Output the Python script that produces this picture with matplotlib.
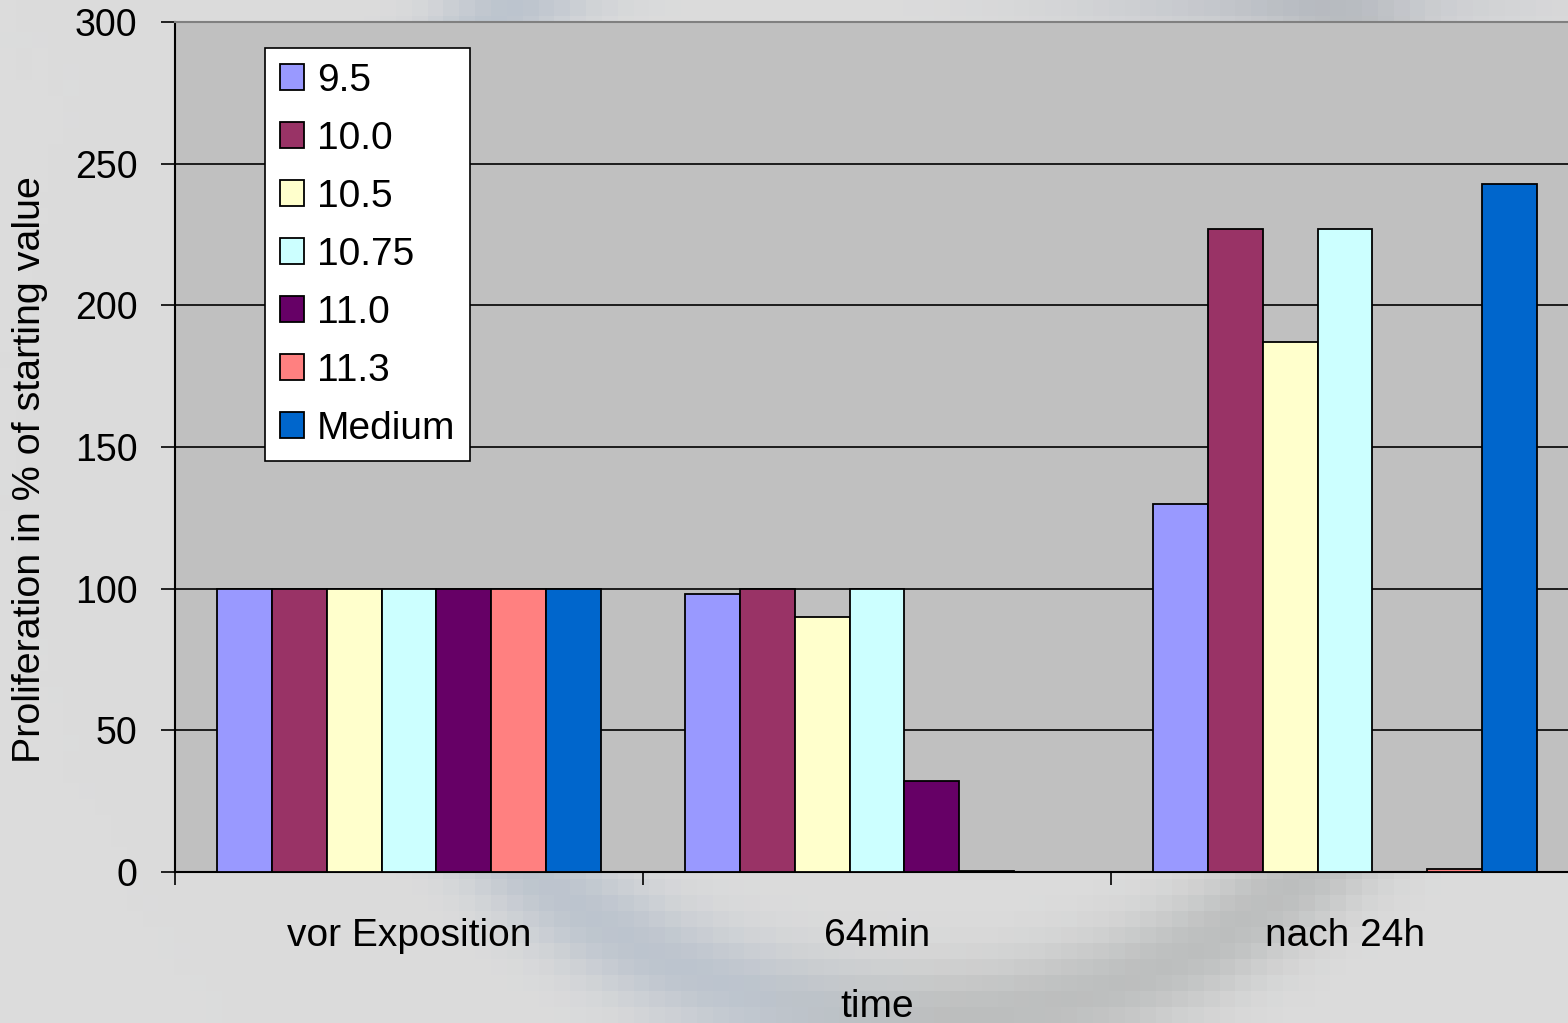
import numpy as np
import matplotlib
matplotlib.use("Agg")
import matplotlib.pyplot as plt
from matplotlib.ticker import FixedLocator

plt.rcParams['font.family'] = ['Liberation Sans', 'DejaVu Sans']

# ---------------------------------------------------------------------------
# data
# ---------------------------------------------------------------------------
categories = ['vor Exposition', '64min', 'nach 24h']
series_names = ['9.5', '10.0', '10.5', '10.75', '11.0', '11.3', 'Medium']
series_colors = ['#9999FF', '#993366', '#FFFFCC', '#CCFFFF', '#660066', '#FF8080', '#0066CC']

vals_95 = [100, 98, 130]
vals_100 = [100, 100, 227]
vals_105 = [100, 90, 187]
vals_1075 = [100, 100, 227]
vals_110 = [100, 32, 0]
vals_113 = [100, 0.4, 1]
vals_medium = [100, 0, 243]

series_values = [vals_95, vals_100, vals_105, vals_1075, vals_110, vals_113, vals_medium]

y_ticks = [0, 50, 100, 150, 200, 250, 300]

W, H = 1568, 1023


def make_background():
    """blocky grey backdrop with a soft ring"""
    block = 16
    nx, ny = W // block + 1, H // block + 1
    xs = (np.arange(nx) + 0.5) * block
    ys = (np.arange(ny) + 0.5) * block
    X, Y = np.meshgrid(xs, ys)
    base = np.ones((ny, nx, 3)) * (220 / 255)

    d = np.hypot(X - 930, Y - 430) - 590
    ring = np.exp(-(d / 55.0) ** 2)
    # left half of the ring has a blue cast
    blue = np.clip((950 - X) / 200.0, 0, 1)
    ring_col = np.stack([
        0.70 * np.ones_like(X),
        0.71 + 0.03 * blue,
        0.71 + 0.08 * blue,
    ], axis=-1)
    a = (0.75 * ring)[..., None]
    img = base * (1 - a) + ring_col * a

    # faint bluish patch along the top right
    patch = np.exp(-((X - 1300) / 220.0) ** 2 - (Y / 40.0) ** 2)[..., None] * 0.6
    img = img * (1 - patch) + np.array([0.70, 0.72, 0.76]) * patch
    return img


fig = plt.figure(figsize=(W / 100, H / 100), dpi=100)

bg_ax = fig.add_axes([0, 0, 1, 1], zorder=-5)
bg_ax.imshow(make_background(), aspect='auto', interpolation='nearest',
             extent=[0, W, H, 0])
bg_ax.set_axis_off()

ax = fig.add_axes([175 / W, 151 / H, 1404 / W, 850 / H])
ax.set_facecolor('#C0C0C0')

x = np.arange(len(categories))
bar_w = 0.1175
n = len(series_names)
for i, (name, vals, col) in enumerate(zip(series_names, series_values, series_colors)):
    ax.bar(x + (i - (n - 1) / 2) * bar_w, vals, bar_w, color=col,
           edgecolor='black', linewidth=1.3, label=name, zorder=3)

ax.set_xlim(-0.5, len(categories) - 0.5)
ax.set_ylim(0, 300)

ax.set_yticks(y_ticks)
ax.yaxis.grid(True, color='black', linewidth=1.2, zorder=0)
ax.set_axisbelow(True)

# category names centred, tick marks on the boundaries
ax.set_xticks(x)
ax.set_xticklabels(categories)
ax.xaxis.set_minor_locator(FixedLocator(np.arange(len(categories) + 1) - 0.5))
ax.tick_params(axis='x', which='major', length=0, pad=33, labelsize=28)
ax.tick_params(axis='x', which='minor', length=9.5, width=1.2, direction='out')
ax.tick_params(axis='y', length=10, width=1.2, direction='out', pad=17, labelsize=27)

ax.spines['left'].set_color('black')
ax.spines['left'].set_linewidth(1.5)
ax.spines['bottom'].set_color('black')
ax.spines['bottom'].set_linewidth(1.5)
ax.spines['top'].set_color('#808080')
ax.spines['top'].set_linewidth(1.5)
ax.spines['right'].set_visible(False)

ax.set_ylabel('Proliferation in % of starting value', fontsize=28.4)
ax.yaxis.set_label_coords(-0.0905, 0.473)
ax.set_xlabel('time', fontsize=28)
ax.xaxis.set_label_coords(0.5, -0.138)

leg = ax.legend(loc='upper left', bbox_to_anchor=(90 / 1404, 824 / 850),
                fontsize=28, frameon=True, fancybox=False, borderaxespad=0,
                handlelength=0.62, handleheight=0.62, handletextpad=0.33,
                labelspacing=0.565, borderpad=0.38)
leg.get_frame().set_edgecolor('black')
leg.get_frame().set_linewidth(1.2)
leg.get_frame().set_facecolor('white')
leg.get_frame().set_alpha(1)

fig.savefig('out.png', dpi=100, facecolor='#DCDCDC')
